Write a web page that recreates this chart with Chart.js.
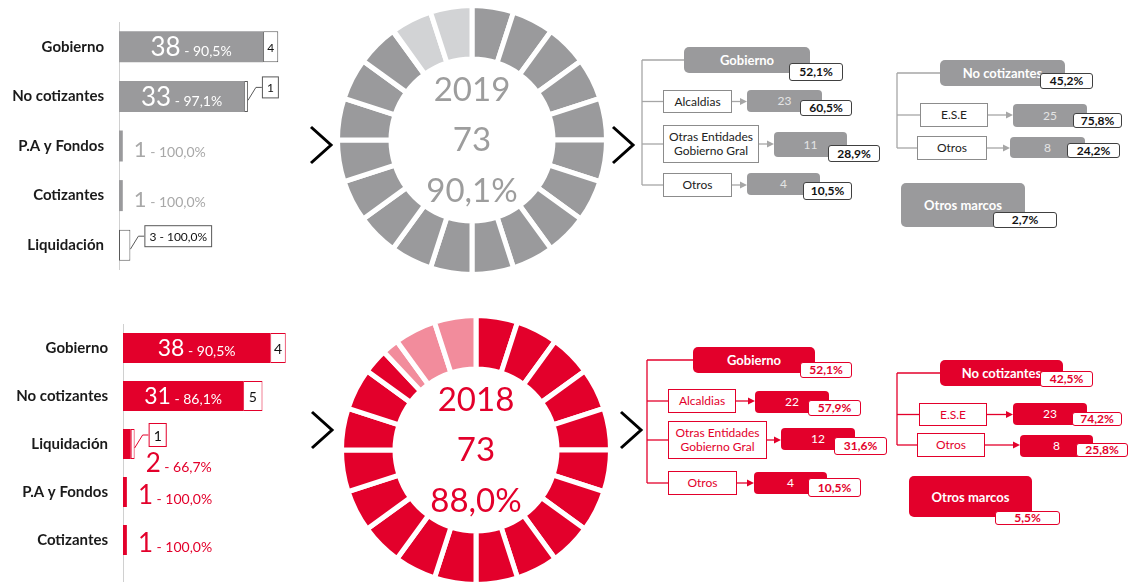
<!DOCTYPE html>
<html>
<head>
<meta charset="utf-8">
<script src="https://cdn.jsdelivr.net/npm/chart.js@4"></script>
<style>
  html, body { margin: 0; padding: 0; background: #fff; }
  #page { position: relative; width: 1135px; height: 582px; overflow: hidden; font-family: Lato, "Open Sans", sans-serif; }
  canvas { position: absolute; }
  svg { position: absolute; left: 0; top: 0; }
  .box { position: absolute; box-sizing: border-box; display: flex; align-items: center; justify-content: center;
         text-align: center; line-height: 14px; white-space: pre-line; }
</style>
</head>
<body>
<div id="page">
  <svg id="lines" width="1135" height="582"></svg>
  <canvas id="bars2019" width="301" height="248" style="left:0;top:22px"></canvas>
  <canvas id="donut2019" width="274" height="274" style="left:335px;top:3px"></canvas>
  <canvas id="bars2018" width="309" height="258" style="left:0;top:324px"></canvas>
  <canvas id="donut2018" width="274" height="274" style="left:339px;top:313px"></canvas>
</div>
<script>
// ---- data ----
const cats2019 = ["Gobierno", "No cotizantes", "P.A y Fondos", "Cotizantes", "Liquidación"];
const main2019 = [38, 33, 1, 1, 0];
const rest2019 = [4, 1, 0, 0, 3];
const pct2019 = ["90,5%", "97,1%", "100,0%", "100,0%", "100,0%"];

const cats2018 = ["Gobierno", "No cotizantes", "Liquidación", "P.A y Fondos", "Cotizantes"];
const main2018 = [38, 31, 2, 1, 1];
const rest2018 = [4, 5, 1, 0, 0];
const pct2018 = ["90,5%", "86,1%", "66,7%", "100,0%", "100,0%"];

const years = ["2019", "2018"];
const totals = [73, 73];
const shares = [90.1, 88.0];

const groupNames = ["Gobierno", "No cotizantes", "Otros marcos"];
const groupPct2019 = ["52,1%", "45,2%", "2,7%"];
const groupPct2018 = ["52,1%", "42,5%", "5,5%"];

const govSubs = ["Alcaldias", "Otras Entidades\nGobierno Gral", "Otros"];
const govN2019 = [23, 11, 4];
const govPct2019 = ["60,5%", "28,9%", "10,5%"];
const govN2018 = [22, 12, 4];
const govPct2018 = ["57,9%", "31,6%", "10,5%"];

const ncSubs = ["E.S.E", "Otros"];
const ncN2019 = [25, 8];
const ncPct2019 = ["75,8%", "24,2%"];
const ncN2018 = [23, 8];
const ncPct2018 = ["74,2%", "25,8%"];

const GRAY = "#9a9a9c", GRAY_LIGHT = "#d2d3d5";
const RED = "#e3002b", RED_LIGHT = "#f28c9c";

// ---- bar labels plugin ----
const barLabels = {
  id: "barLabels",
  afterDatasetsDraw(chart, args, o) {
    const ctx = chart.ctx, xs = chart.scales.x, ys = chart.scales.y;
    const base = xs.getPixelForValue(0);
    ctx.save();
    if (o.axisTail) {
      // axis line runs on below the last bar
      ctx.strokeStyle = "#d0d0d0";
      ctx.lineWidth = 1;
      ctx.beginPath();
      ctx.moveTo(chart.chartArea.left + 0.5, chart.chartArea.bottom);
      ctx.lineTo(chart.chartArea.left + 0.5, chart.chartArea.bottom + o.axisTail);
      ctx.stroke();
    }
    o.main.forEach((v, i) => {
      const r = o.rest[i];
      const cy = ys.getPixelForValue(i);
      const mainEnd = xs.getPixelForValue(v);
      const restEnd = xs.getPixelForValue(v + r);
      ctx.textBaseline = "alphabetic";
      ctx.textAlign = "left";
      if (v > 0) {
        const bigT = String(v), smallT = " - " + o.pct[i];
        const inside = mainEnd - base > 70;
        const big = inside ? o.bigIn : o.bigOut;
        ctx.font = big + "px Lato";
        const wb = ctx.measureText(bigT).width;
        ctx.font = o.small + "px Lato";
        const ws = ctx.measureText(smallT).width;
        let x0, yb;
        if (inside) {
          x0 = (base + mainEnd) / 2 - (wb + ws) / 2;
          yb = cy + big * 0.36;
          ctx.fillStyle = "#fff";
        } else {
          x0 = (r > 0 ? restEnd : mainEnd) + 11;
          yb = (r > 0 ? cy + 19 : cy + 3) + big * 0.36;
          ctx.fillStyle = o.outColor;
        }
        ctx.font = big + "px Lato";
        ctx.fillText(bigT, x0, yb);
        ctx.font = o.small + "px Lato";
        ctx.fillText(smallT, x0 + wb, yb);
      }
      if (r > 0) {
        const t = v > 0 ? String(r) : r + " - " + o.pct[i];
        ctx.font = o.restSize + "px Lato";
        const tw = ctx.measureText(t).width;
        ctx.fillStyle = "#111";
        ctx.textBaseline = "middle";
        if (tw + 4 <= restEnd - mainEnd) {
          ctx.textAlign = "center";
          ctx.fillText(t, (mainEnd + restEnd) / 2, cy + 1);
        } else {
          const bx = restEnd + 14, by = cy - 9, bh = o.restSize + 10, bw = tw + 10;
          ctx.strokeStyle = o.restBorder;
          ctx.lineWidth = 1;
          ctx.beginPath();
          ctx.moveTo(restEnd, cy + 4);
          ctx.lineTo(restEnd + 8, by);
          ctx.lineTo(bx, by);
          ctx.stroke();
          ctx.fillStyle = "#fff";
          ctx.fillRect(bx, by - bh / 2, bw, bh);
          ctx.strokeRect(bx + 0.5, by - bh / 2 + 0.5, bw - 1, bh - 1);
          ctx.fillStyle = "#111";
          ctx.textAlign = "left";
          ctx.fillText(t, bx + 5, by + 1);
        }
      }
    });
    ctx.restore();
  }
};

function makeBars(id, cats, main, rest, pct, st) {
  new Chart(document.getElementById(id), {
    type: "bar",
    data: {
      labels: cats,
      datasets: [
        { data: main.map(v => v || null), backgroundColor: st.fill, barPercentage: 0.625, categoryPercentage: 1 },
        { data: rest.map(v => v || null), backgroundColor: "#fff", borderColor: st.restBorder, borderWidth: 1,
          borderSkipped: false, barPercentage: 0.625, categoryPercentage: 1 }
      ]
    },
    options: {
      indexAxis: "y",
      responsive: false,
      animation: false,
      events: [],
      layout: { padding: { bottom: st.axisTail || 0 } },
      scales: {
        x: { stacked: true, display: false, min: 0, max: 48 },
        y: {
          stacked: true,
          grid: { display: false, drawTicks: false },
          border: { display: true, color: "#d0d0d0" },
          ticks: { padding: 15, color: "#1a1a1a", font: { family: "Lato", weight: "bold", size: 15 } },
          afterFit: s => { s.width = st.axisW; s.paddingTop = 0; s.paddingBottom = 0; }
        }
      },
      plugins: {
        legend: { display: false },
        tooltip: { enabled: false },
        barLabels: Object.assign({ main, rest, pct }, st)
      }
    },
    plugins: [barLabels]
  });
}

makeBars("bars2019", cats2019, main2019, rest2019, pct2019,
  { fill: GRAY, restBorder: "#595959", axisW: 119, bigIn: 26, bigOut: 22, small: 14, restSize: 12, outColor: "#a8a8a8" });
makeBars("bars2018", cats2018, main2018, rest2018, pct2018,
  { fill: RED, restBorder: RED, axisW: 123, axisTail: 18, bigIn: 23, bigOut: 26, small: 14, restSize: 14, outColor: RED });

// ---- donuts ----
const SEG = 5;
const centerText = {
  id: "centerText",
  afterDraw(chart, args, o) {
    const a = chart.chartArea, ctx = chart.ctx;
    const cx = (a.left + a.right) / 2, cy = (a.top + a.bottom) / 2;
    ctx.save();
    ctx.font = "33px Lato";
    ctx.fillStyle = o.color;
    ctx.textAlign = "center";
    ctx.textBaseline = "middle";
    ctx.fillText(o.lines[0], cx, cy - 50);
    ctx.fillText(o.lines[1], cx, cy);
    ctx.fillText(o.lines[2], cx, cy + 51);
    ctx.restore();
  }
};

function makeDonut(id, share, year, total, dark, light, textColor) {
  const data = [], colors = [];
  for (let s = 0; s < 100; s += SEG) {
    const e = s + SEG;
    if (e <= share) { data.push(SEG); colors.push(dark); }
    else if (s >= share) { data.push(SEG); colors.push(light); }
    else { data.push(share - s); colors.push(dark); data.push(e - share); colors.push(light); }
  }
  new Chart(document.getElementById(id), {
    type: "doughnut",
    data: { datasets: [{ data, backgroundColor: colors, borderColor: "#fff", borderWidth: 5 }] },
    options: {
      responsive: false,
      animation: false,
      events: [],
      cutout: 81,
      plugins: {
        legend: { display: false },
        tooltip: { enabled: false },
        centerText: { color: textColor, lines: [year, String(total), share.toFixed(1).replace(".", ",") + "%"] }
      }
    },
    plugins: [centerText]
  });
}

makeDonut("donut2019", shares[0], years[0], totals[0], GRAY, GRAY_LIGHT, "#9d9d9d");
makeDonut("donut2018", shares[1], years[1], totals[1], RED, RED_LIGHT, RED);

// ---- tree diagrams ----
const page = document.getElementById("page");
const svg = document.getElementById("lines");
const NS = "http://www.w3.org/2000/svg";

function svgEl(tag, attrs) {
  const e = document.createElementNS(NS, tag);
  for (const k in attrs) e.setAttribute(k, attrs[k]);
  svg.appendChild(e);
}
function line(x1, y1, x2, y2, c) {
  svgEl("line", { x1, y1, x2, y2, stroke: c, "stroke-width": 1.3 });
}
function arrow(x1, x2, y, c) {
  line(x1, y, x2 - 5, y, c);
  svgEl("polygon", { points: `${x2 - 7},${y - 3.5} ${x2},${y} ${x2 - 7},${y + 3.5}`, fill: c });
}
function box(r, text, s) {
  const d = document.createElement("div");
  d.className = "box";
  Object.assign(d.style, {
    left: r[0] + "px", top: r[1] + "px", width: r[2] + "px", height: r[3] + "px",
    background: s.bg, border: s.border || "none", color: s.color, borderRadius: (s.radius || 0) + "px",
    fontSize: s.size + "px", fontWeight: s.bold ? "bold" : "normal"
  });
  d.textContent = text;
  page.appendChild(d);
}

const layout2019 = {
  gov: { vx: 642, head: [684, 47, 126, 26], headPct: [789, 63, 54, 18],
    sub: [[663, 90, 69, 23], [663, 125, 96, 38], [663, 173, 69, 24]],
    num: [[747, 90, 75, 22], [774, 132, 73, 25], [747, 173, 73, 22]],
    pct: [[800, 100, 52, 16], [828, 145, 52, 17], [803, 182, 49, 18]] },
  nc: { vx: 897, head: [940, 60, 125, 26], headPct: [1040, 73, 53, 16],
    sub: [[920, 103, 68, 24], [917, 136, 70, 24]],
    num: [[1013, 104, 74, 23], [1010, 137, 75, 21]],
    pct: [[1073, 113, 49, 15], [1067, 143, 53, 15]] },
  marcos: { head: [901, 183, 124, 44], headPct: [993, 212, 64, 16] }
};
const layout2018 = {
  gov: { vx: 647, head: [693, 347, 122, 26], headPct: [800, 362, 52, 16],
    sub: [[668, 389, 68, 24], [668, 421, 99, 38], [668, 471, 69, 24]],
    num: [[755, 391, 74, 22], [781, 428, 74, 22], [754, 472, 73, 22]],
    pct: [[808, 400, 53, 16], [834, 437, 53, 18], [808, 478, 53, 19]] },
  nc: { vx: 897, head: [940, 360, 123, 26], headPct: [1040, 371, 53, 16],
    sub: [[919, 403, 68, 23], [917, 433, 68, 24]],
    num: [[1013, 403, 74, 22], [1020, 435, 73, 22]],
    pct: [[1072, 412, 50, 14], [1076, 443, 52, 14]] },
  marcos: { head: [909, 476, 123, 41], headPct: [995, 511, 65, 14] }
};

const theme2019 = {
  line: "#a6a6a6",
  head: { bg: GRAY, color: "#fff", bold: true, size: 13, radius: 5 },
  pct: { bg: "#fff", border: "1px solid #404040", color: "#111", bold: true, size: 12, radius: 3 },
  outline: { bg: "#fff", border: "1px solid #8c8c8c", color: "#222", size: 12 },
  num: { bg: GRAY, color: "#e4e4e4", size: 12, radius: 4 }
};
const theme2018 = {
  line: RED,
  head: { bg: RED, color: "#fff", bold: true, size: 13, radius: 5 },
  pct: { bg: "#fff", border: "1px solid " + RED, color: RED, bold: true, size: 12, radius: 3 },
  outline: { bg: "#fff", border: "1px solid " + RED, color: RED, size: 12 },
  num: { bg: RED, color: "#fff", size: 12, radius: 4 }
};

function branch(g, name, gPct, subs, ns, ps, th) {
  const hy = g.head[1] + g.head[3] / 2;
  const last = g.sub[g.sub.length - 1];
  line(g.vx, hy, g.vx, last[1] + last[3] / 2, th.line);
  line(g.vx, hy, g.head[0], hy, th.line);
  subs.forEach((s, i) => {
    const b = g.sub[i], n = g.num[i], cy = b[1] + b[3] / 2;
    line(g.vx, cy, b[0], cy, th.line);
    arrow(b[0] + b[2], n[0], cy, th.line);
    box(b, s, th.outline);
    box(n, String(ns[i]), th.num);
    box(g.pct[i], ps[i], th.pct);
  });
  box(g.head, name, th.head);
  box(g.headPct, gPct, th.pct);
}

function buildTree(L, th, gPcts, govN, govP, ncN, ncP) {
  branch(L.gov, groupNames[0], gPcts[0], govSubs, govN, govP, th);
  branch(L.nc, groupNames[1], gPcts[1], ncSubs, ncN, ncP, th);
  box(L.marcos.head, groupNames[2], th.head);
  box(L.marcos.headPct, gPcts[2], th.pct);
}

buildTree(layout2019, theme2019, groupPct2019, govN2019, govPct2019, ncN2019, ncPct2019);
buildTree(layout2018, theme2018, groupPct2018, govN2018, govPct2018, ncN2018, ncPct2018);

// chevrons between the panels
[[311, 145], [613, 145], [312, 430], [621, 430]].forEach(([x, y]) => {
  svgEl("polyline", { points: `${x},${y - 18} ${x + 20},${y} ${x},${y + 18}`, fill: "none", stroke: "#000", "stroke-width": 3 });
});
</script>
</body>
</html>
